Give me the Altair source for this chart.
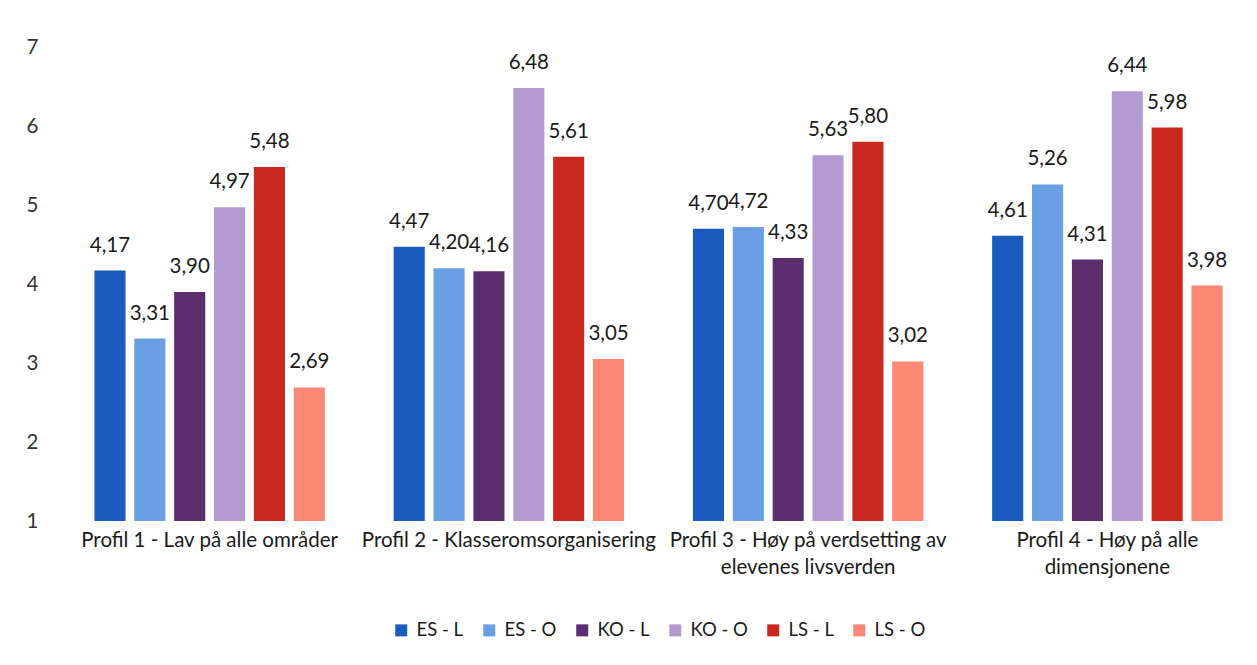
import altair as alt
import pandas as pd

categories = [
    "Profil 1 - Lav på alle områder",
    "Profil 2 - Klasseromsorganisering",
    "Profil 3 - Høy på verdsetting av elevenes livsverden",
    "Profil 4 - Høy på alle dimensjonene",
]
label_lines = {
    categories[0]: ["Profil 1 - Lav på alle områder"],
    categories[1]: ["Profil 2 - Klasseromsorganisering"],
    categories[2]: ["Profil 3 - Høy på verdsetting av", "elevenes livsverden"],
    categories[3]: ["Profil 4 - Høy på alle", "dimensjonene"],
}
series = ["ES - L", "ES - O", "KO - L", "KO - O", "LS - L", "LS - O"]
colors = ["#1a5bbd", "#6b9fe3", "#5b2e6e", "#b39bd2", "#c8281e", "#fb8775"]

es_l = [4.17, 4.47, 4.70, 4.61]
es_o = [3.31, 4.20, 4.72, 5.26]
ko_l = [3.90, 4.16, 4.33, 4.31]
ko_o = [4.97, 6.48, 5.63, 6.44]
ls_l = [5.48, 5.61, 5.80, 5.98]
ls_o = [2.69, 3.05, 3.02, 3.98]

values = [es_l, es_o, ko_l, ko_o, ls_l, ls_o]
rows = []
for s, vals in zip(series, values):
    for c, v in zip(categories, vals):
        rows.append({"Profil": c, "Serie": s, "Verdi": v,
                     "Tekst": f"{v:.2f}".replace(".", ",")})
df = pd.DataFrame(rows)

FONT = "Lato"
FS = 20.5

label_expr = " : ".join(
    [f"datum.value == {c!r} ? {label_lines[c]!r}" for c in categories]
) + " : datum.value"

x = alt.X("Profil:N", sort=categories, title=None,
          scale=alt.Scale(paddingInner=0.23, paddingOuter=0.115),
          axis=alt.Axis(labelAngle=0, labelFontSize=FS, labelFont=FONT,
                        labelColor="#1a1a1a", labelPadding=9, ticks=False,
                        domain=False, labelLineHeight=27, labelExpr=label_expr,
                        labelLimit=400))
xo = alt.XOffset("Serie:N", sort=series,
                 scale=alt.Scale(paddingInner=0.22, paddingOuter=0))

base = alt.Chart(df)

bars = base.mark_bar().encode(
    x=x, xOffset=xo,
    y=alt.Y("Verdi:Q", title=None,
            scale=alt.Scale(domain=[1, 7], zero=False, nice=False),
            axis=alt.Axis(values=[1, 2, 3, 4, 5, 6, 7], format="d", grid=False,
                          domain=False, ticks=False, labelFontSize=FS,
                          labelFont=FONT, labelColor="#333333", labelPadding=22)),
    y2=alt.datum(1),
    color=alt.Color("Serie:N", sort=series,
                    scale=alt.Scale(domain=series, range=colors),
                    legend=alt.Legend(title=None, orient="none", direction="horizontal",
                                      columns=6, legendX=332, legendY=574,
                                      symbolType="square", symbolSize=144,
                                      symbolStrokeWidth=0, labelFontSize=18.5,
                                      labelFont=FONT, labelColor="#1a1a1a",
                                      columnPadding=16, labelOffset=6)),
)

texts = base.mark_text(baseline="alphabetic", dy=-19, fontSize=FS, font=FONT,
                       color="#1a1a1a").encode(
    x=x, xOffset=xo,
    y=alt.Y("Verdi:Q"),
    text="Tekst:N",
)

chart = (bars + texts).properties(
    width=1197, height=474,
    padding={"left": 60, "top": 47, "right": 0, "bottom": 144},
    autosize=alt.AutoSizeParams(type="none"),
    background="white",
).configure_view(stroke=None)

chart.save("out.html", embed_options={"renderer": "svg", "actions": False})
